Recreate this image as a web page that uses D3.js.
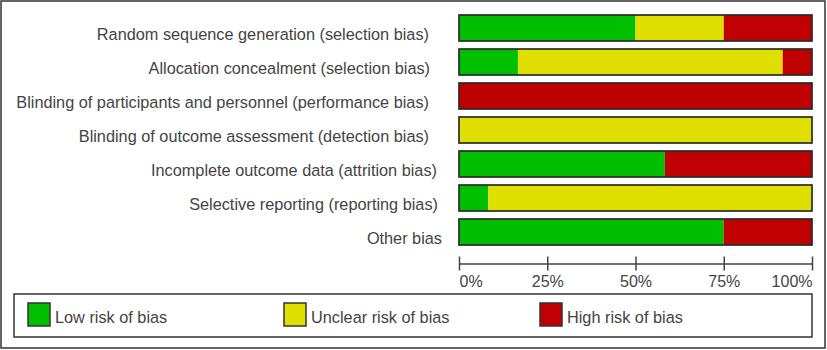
<!DOCTYPE html>
<html>
<head>
<meta charset="utf-8">
<script src="https://cdn.jsdelivr.net/npm/d3@7"></script>
<style>
  body { margin: 0; background: #fff; }
</style>
</head>
<body>
<svg></svg>
<script>
const domains = [
    "Random sequence generation (selection bias)",
    "Allocation concealment (selection bias)",
    "Blinding of participants and personnel (performance bias)",
    "Blinding of outcome assessment (detection bias)",
    "Incomplete outcome data (attrition bias)",
    "Selective reporting (reporting bias)",
    "Other bias"
];
// percent of studies per judgement
const lowRisk     = [50, 16.7, 0,   0,   58.3, 8.3,  75];
const unclearRisk = [25, 75,   0,   100, 0,    91.7, 0];
const highRisk    = [25, 8.3,  100, 0,   41.7, 0,    25];

const riskKeys = ["low", "unclear", "high"];
const riskLabels = ["Low risk of bias", "Unclear risk of bias", "High risk of bias"];
const riskColors = ["#00bf00", "#e0e000", "#c00000"];
const tickValues = [0, 25, 50, 75, 100];

const width = 827, height = 350;
const fontSize = "16.3px";
// the original image has the lower labels nudged right a little
const labelNudge = [0, 1, 0, 0, 8, 9, 13];

const rows = domains.map((d, i) => ({
    domain: d, low: lowRisk[i], unclear: unclearRisk[i], high: highRisk[i]
}));

const svg = d3.select("svg")
    .attr("width", width)
    .attr("height", height)
    .style("font-family", "'Liberation Sans', Arial, sans-serif");

// outer frame
svg.append("rect")
    .attr("x", 1).attr("y", 1)
    .attr("width", width - 3).attr("height", height - 3)
    .attr("fill", "none")
    .attr("stroke", "#333")
    .attr("stroke-width", 1.5);

const x = d3.scaleLinear().domain([0, 100]).range([459, 812]);
const y = d3.scaleBand()
    .domain(domains)
    .range([11, 249])
    .paddingInner(8 / 34)
    .paddingOuter(4 / 34);

const color = d3.scaleOrdinal().domain(riskKeys).range(riskColors);

const stacked = d3.stack().keys(riskKeys)(rows);

svg.append("g")
    .selectAll("g")
    .data(stacked)
    .join("g")
    .attr("fill", d => color(d.key))
    .selectAll("rect")
    .data(d => d)
    .join("rect")
    .attr("x", d => x(d[0]))
    .attr("y", d => y(d.data.domain))
    .attr("width", d => x(d[1]) - x(d[0]))
    .attr("height", y.bandwidth());

// bar outlines
svg.append("g")
    .selectAll("rect")
    .data(rows)
    .join("rect")
    .attr("x", x(0))
    .attr("y", d => y(d.domain))
    .attr("width", x(100) - x(0))
    .attr("height", y.bandwidth())
    .attr("fill", "none")
    .attr("stroke", "#2a2a2a")
    .attr("stroke-width", 1.7);

// row labels
svg.append("g")
    .selectAll("text")
    .data(domains)
    .join("text")
    .attr("x", (d, i) => 429 + labelNudge[i])
    .attr("y", d => y(d) + y.bandwidth() / 2 + 11.5)
    .attr("text-anchor", "end")
    .attr("font-size", fontSize)
    .attr("fill", "#444")
    .text(d => d);

// x axis
const axisY = 263.5;
const gx = svg.append("g")
    .attr("transform", `translate(0,${axisY})`)
    .call(d3.axisBottom(x)
        .tickValues(tickValues)
        .tickFormat(d => d + "%")
        .tickSizeOuter(0)
        .tickSizeInner(0));

gx.select(".domain").attr("stroke", "#444").attr("stroke-width", 1.5);
gx.selectAll(".tick line")
    .attr("y1", -7).attr("y2", 7)
    .attr("stroke", "#444").attr("stroke-width", 1.5);
gx.selectAll(".tick text")
    .attr("y", 23).attr("dy", 0)
    .attr("font-size", "16px")
    .attr("font-family", "'Liberation Sans', Arial, sans-serif")
    .attr("fill", "#444")
    .attr("text-anchor", (d, i) => i === 0 ? "start" : i === tickValues.length - 1 ? "end" : "middle");

// legend
svg.append("rect")
    .attr("x", 14).attr("y", 294)
    .attr("width", 798).attr("height", 43)
    .attr("fill", "none")
    .attr("stroke", "#333")
    .attr("stroke-width", 1.5);

const legendX = d3.scalePoint().domain(riskKeys).range([28, 540]);

const lg = svg.append("g")
    .selectAll("g")
    .data(riskKeys)
    .join("g")
    .attr("transform", d => `translate(${legendX(d)},303)`);

lg.append("rect")
    .attr("width", 22).attr("height", 23)
    .attr("fill", d => color(d))
    .attr("stroke", "#333")
    .attr("stroke-width", 1.5);

lg.append("text")
    .attr("x", 27)
    .attr("y", 20)
    .attr("font-size", fontSize)
    .attr("fill", "#444")
    .text((d, i) => riskLabels[i]);
</script>
</body>
</html>
